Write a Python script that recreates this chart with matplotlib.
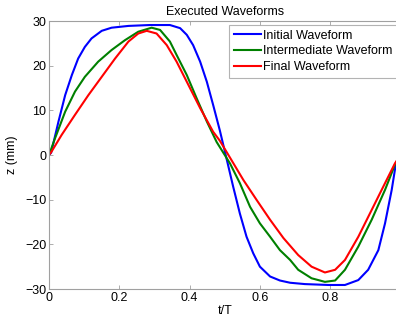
import numpy as np
import matplotlib.pyplot as plt
from matplotlib.ticker import FuncFormatter

plt.rcParams['font.family'] = ['Liberation Sans', 'DejaVu Sans']

t_init = [0, 0.006, 0.027, 0.046, 0.065, 0.083, 0.102, 0.121, 0.15, 0.178, 0.226, 0.287,
          0.344, 0.373, 0.392, 0.41, 0.43, 0.449, 0.467, 0.486, 0.506, 0.524, 0.543, 0.562,
          0.581, 0.60, 0.629, 0.657, 0.686, 0.728, 0.795, 0.842, 0.88, 0.908, 0.937, 0.956,
          0.975, 0.987, 1.0]
z_init = [0, 0.5, 7.5, 13.4, 17.9, 21.6, 24.2, 26.1, 27.8, 28.5, 28.9, 29.1,
          29.1, 28.4, 26.9, 24.6, 20.9, 16.4, 11.2, 5.5, -1.1, -7.1, -13.1, -18.3,
          -22.0, -25.0, -27.2, -28.1, -28.6, -28.9, -29.1, -29.1, -28.0, -25.7, -21.3, -15.3,
          -7.8, -1.9, 0]

t_mid = [0, 0.017, 0.046, 0.074, 0.102, 0.14, 0.178, 0.216, 0.254, 0.292, 0.316, 0.344,
         0.363, 0.392, 0.42, 0.449, 0.477, 0.496, 0.515, 0.543, 0.572, 0.60, 0.629, 0.657,
         0.686, 0.709, 0.747, 0.785, 0.814, 0.842, 0.88, 0.918, 0.956, 0.984, 1.0]
z_mid = [0, 3.7, 9.7, 14.2, 17.5, 20.9, 23.5, 25.7, 27.6, 28.5, 28.0, 25.4,
         22.4, 17.9, 12.7, 7.5, 2.9, 0.5, -1.9, -6.3, -11.6, -15.3, -18.3, -21.3,
         -23.5, -25.7, -27.6, -28.4, -28.1, -25.7, -20.5, -14.5, -7.8, -2.2, 0]

t_fin = [0, 0.006, 0.036, 0.074, 0.112, 0.15, 0.188, 0.226, 0.254, 0.278, 0.306, 0.335,
         0.363, 0.392, 0.43, 0.467, 0.486, 0.515, 0.553, 0.591, 0.629, 0.667, 0.709, 0.747,
         0.785, 0.814, 0.842, 0.88, 0.918, 0.956, 0.984, 1.0]
z_fin = [0, 0.6, 4.5, 9.0, 13.4, 17.5, 21.6, 25.4, 27.2, 27.8, 27.2, 24.6,
         20.9, 16.4, 10.5, 5.2, 3.2, -0.6, -5.6, -10.1, -14.5, -18.6, -22.4, -25.0,
         -26.3, -25.7, -23.5, -18.3, -12.3, -6.3, -1.9, 0]

labels = ['Initial Waveform', 'Intermediate Waveform', 'Final Waveform']
colors = ['#0000ff', '#008000', '#ff0000']

fig = plt.figure(figsize=(3.96, 3.24), dpi=100)
ax = fig.add_axes([49 / 396, 35 / 324, 351.5 / 396, 268 / 324])

for tt, zz, lab, c in zip([t_init, t_mid, t_fin], [z_init, z_mid, z_fin], labels, colors):
    ax.plot(tt, zz, color=c, lw=1.5, label=lab)

ax.set_xlim(0, 1)
ax.set_ylim(-30, 30)
ax.set_xticks([0, 0.2, 0.4, 0.6, 0.8])
ax.set_yticks([-30, -20, -10, 0, 10, 20, 30])
ax.xaxis.set_major_formatter(FuncFormatter(lambda v, p: '%g' % v))
ax.tick_params(direction='in', length=3, width=0.6, color='#a0a0a0',
               labelsize=9, top=True, right=True, pad=2)
for s in ax.spines.values():
    s.set_color('#a0a0a0')
    s.set_linewidth(0.8)

ax.set_title('Executed Waveforms', fontsize=9, pad=4)
ax.set_xlabel('t/T', fontsize=9, labelpad=1)
ax.set_ylabel('z (mm)', fontsize=9, labelpad=5)

leg = ax.legend(loc='upper left', bbox_to_anchor=(229 / 396, 299 / 324),
                bbox_transform=fig.transFigure, fontsize=9, fancybox=False,
                edgecolor='#a0a0a0', handlelength=2.2, handletextpad=0.15,
                labelspacing=0.3, borderpad=0.38, borderaxespad=0)
leg.get_frame().set_linewidth(0.8)

fig.savefig('out.png', dpi=100)
